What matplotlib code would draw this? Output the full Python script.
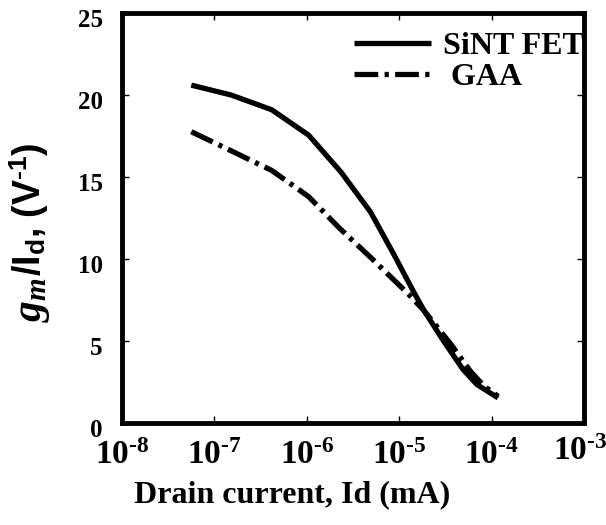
import numpy as np
import matplotlib
matplotlib.use('Agg')
import matplotlib.pyplot as plt
from matplotlib.transforms import ScaledTranslation

# log10 of drain current (mA) and gm/Id (1/V) for both devices
logid_sint = [-7.25, -6.82, -6.38, -5.98, -5.63, -5.31, -5.06, -4.85, -4.73, -4.52, -4.31, -4.16, -3.93]
gmid_sint = [20.6, 20.0, 19.1, 17.55, 15.3, 12.86, 10.3, 8.06, 6.84, 5.0, 3.27, 2.35, 1.53]

logid_gaa = [-7.25, -6.82, -6.38, -5.98, -5.65, -5.31, -4.90, -4.73, -4.44, -4.23, -4.08, -3.93]
gmid_gaa = [17.76, 16.6, 15.4, 13.8, 11.9, 10.1, 7.86, 6.84, 4.8, 3.16, 2.24, 1.63]

xticks = [1e-8, 1e-7, 1e-6, 1e-5, 1e-4, 1e-3]
xticklabels = [r'10$^{\text{-8}}$', r'10$^{\text{-7}}$', r'10$^{\text{-6}}$',
               r'10$^{\text{-5}}$', r'10$^{\text{-4}}$', r'10$^{\text{-3}}$']
yticks = [0, 5, 10, 15, 20, 25]

plt.rcParams['font.family'] = 'Liberation Serif'
plt.rcParams['font.weight'] = 'bold'
plt.rcParams['mathtext.fontset'] = 'custom'
plt.rcParams['mathtext.rm'] = 'Liberation Serif:bold'
plt.rcParams['mathtext.it'] = 'Liberation Serif:italic:bold'
plt.rcParams['mathtext.bf'] = 'Liberation Serif:bold'
plt.rcParams['mathtext.sf'] = 'Liberation Sans:bold'

fig = plt.figure(figsize=(6.06, 5.25), dpi=100)
ax = fig.add_axes([0.2013, 0.1943, 0.7624, 0.781])

ax.plot(10 ** np.array(logid_sint), gmid_sint, color='black', lw=3.8,
        solid_capstyle='butt', label='SiNT FET')
ax.plot(10 ** np.array(logid_gaa), gmid_gaa, color='black', lw=3.8,
        dashes=(4.5, 1.2, 0.8, 1.2), dash_capstyle='butt', label=' GAA')

ax.set_xscale('log')
ax.set_xlim(1e-8, 1e-3)
ax.set_ylim(0, 25)
ax.set_xticks(xticks)
ax.set_xticklabels(xticklabels)
ax.set_yticks(yticks)

for s in ax.spines.values():
    s.set_linewidth(3.5)
ax.tick_params(which='both', direction='in', top=True, right=True)
ax.tick_params(which='major', length=5, width=1)
ax.tick_params(axis='x', which='major', labelsize=24, pad=12)
ax.tick_params(axis='y', which='major', labelsize=18, pad=14)
ax.tick_params(which='minor', length=3, width=0.8)

# y tick labels sit a little below their ticks
for lab in ax.get_yticklabels():
    lab.set_transform(lab.get_transform() + ScaledTranslation(0, -5 / 100, fig.dpi_scale_trans))
last = ax.get_xticklabels()[-1]
last.set_transform(last.get_transform() + ScaledTranslation(-4 / 100, 4 / 100, fig.dpi_scale_trans))

ax.set_xlabel('Drain current, Id (mA)', fontsize=23, fontweight='bold')
ax.xaxis.set_label_coords(0.368, -0.14)

# y label: italic gm followed by the sans part, stacked along the baseline
fig.canvas.draw()
gm = fig.text(41 / 606, 1 - 322 / 525, r'$\mathit{g_m}$', fontsize=30,
              rotation=90, rotation_mode='anchor', ha='left', va='baseline')
fig.canvas.draw()
bb = gm.get_window_extent()
rest = fig.text(41 / 606, (bb.y1 + 1) / 525,
                r'/I$_{\mathsf{d}}$, (V$^{\text{-}\mathsf{1}}$)',
                family='Liberation Sans', fontweight='bold', fontsize=27,
                rotation=90, rotation_mode='anchor', ha='left', va='baseline')

ax.legend(loc='upper right', bbox_to_anchor=(1.028, 0.985), frameon=False,
          fontsize=23, handlelength=2.4, handletextpad=0.4, labelspacing=0.05,
          borderaxespad=0.1, borderpad=0.3)

fig.savefig('out.png', dpi=100)
